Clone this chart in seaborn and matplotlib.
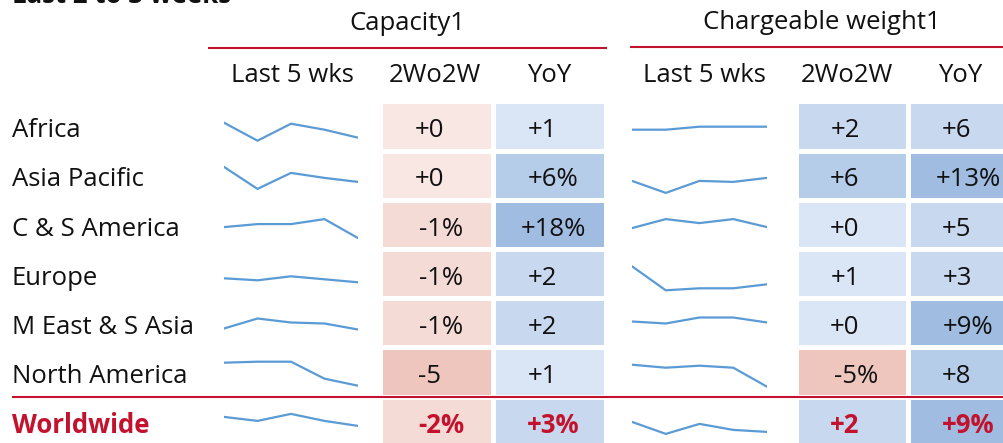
import numpy as np
import pandas as pd
import matplotlib
matplotlib.use("Agg")
import matplotlib.pyplot as plt
from matplotlib.colors import ListedColormap
import seaborn as sns

# ---------------- data ----------------
regions = ["Africa", "Asia Pacific", "C & S America", "Europe",
           "M East & S Asia", "North America", "Worldwide"]
weeks = [1, 2, 3, 4, 5]

# sparkline levels (relative index, last 5 weeks)
cap_spark = [
    [28, 10, 27, 21, 13],
    [33, 11, 27, 22, 18],
    [22, 25, 25, 30, 11],
    [20, 18, 22, 19, 16],
    [19, 29, 25, 24, 18],
    [34, 35, 35, 18, 11],
    [29, 25, 32, 25, 20],
]
chg_spark = [
    [21, 21, 24, 24, 24],
    [19, 7, 19, 18, 22],
    [21, 30, 26, 30, 22],
    [32, 8, 10, 10, 14],
    [26, 24, 30, 30, 25],
    [32, 29, 31, 29, 10],
    [24, 12, 22, 16, 14],
]

# change values (estimated, used for shading)
cap_2w = [-0.3, -0.2, -1.2, -1.0, -0.8, -5.0, -1.6]
cap_yoy = [1.0, 6.4, 18.0, 2.0, 2.0, 1.0, 3.0]
chg_2w = [2.0, 6.2, 0.3, 1.0, 0.2, -5.0, 2.0]
chg_yoy = [5.6, 13.0, 5.0, 3.0, 9.0, 8.0, 9.0]

# displayed labels
cap_2w_lbl = ["+0", "+0", "-1%", "-1%", "-1%", "-5", "-2%"]
cap_yoy_lbl = ["+1", "+6%", "+18%", "+2", "+2", "+1", "+3%"]
chg_2w_lbl = ["+2", "+6", "+0", "+1", "+0", "-5%", "+2"]
chg_yoy_lbl = ["+6", "+13%", "+5", "+3", "+9%", "+8", "+9%"]

group_titles = ["Capacity1", "Chargeable weight1"]
sub_headers = ["Last 5 wks", "2Wo2W", "YoY"]
title = "Last 2 to 3 weeks"

# ---------------- style ----------------
sns.set_style("white")
plt.rcParams["font.family"] = ["Open Sans", "DejaVu Sans"]

W, H = 1004, 443
RED = "#C3122E"
TXT = "#111111"
LINE = "#5B9BD5"
shade_colors = ["#EEC6BD", "#F4DBD5", "#F9E7E4",
                "#DAE5F5", "#C8D8EE", "#B6CDEA", "#A0BCE0"]
bounds = [-3, -0.5, 0, 1.5, 6, 8.5]
cmap = ListedColormap(shade_colors)

fig = plt.figure(figsize=(W / 100, H / 100), dpi=100)
fig.patch.set_facecolor("white")

row_top0 = 101.5
row_h = 49.2
n = len(regions)


def rect(x0, y0, x1, y1):
    return [x0 / W, 1 - y1 / H, (x1 - x0) / W, (y1 - y0) / H]


# heatmaps
def heat(ax, a, b):
    lv = np.column_stack([np.digitize(a, bounds), np.digitize(b, bounds)])
    sns.heatmap(lv, ax=ax, cmap=cmap, vmin=-0.5, vmax=len(shade_colors) - 0.5,
                cbar=False, linewidths=2.2, linecolor="white",
                xticklabels=False, yticklabels=False)
    ax.set_xlabel("")
    ax.set_ylabel("")


top = row_top0
bot = row_top0 + n * row_h
ax_cap = fig.add_axes(rect(380.5, top, 605.5, bot))
heat(ax_cap, cap_2w, cap_yoy)
ax_chg = fig.add_axes(rect(796.5, top, 1019.5, bot))
heat(ax_chg, chg_2w, chg_yoy)

# sparklines
for i in range(n):
    rt = row_top0 + i * row_h
    for data, (x0, x1) in ((cap_spark, (224, 358)), (chg_spark, (632, 767))):
        ax_s = fig.add_axes(rect(x0, rt, x1, rt + row_h))
        df = pd.DataFrame({"week": weeks, "v": data[i]})
        sns.lineplot(data=df, x="week", y="v", ax=ax_s, color=LINE, linewidth=1.6)
        ax_s.set_xlim(weeks[0], weeks[-1])
        ax_s.set_ylim(0, row_h)
        ax_s.axis("off")

# overlay axes for text and rules
ax = fig.add_axes([0, 0, 1, 1])
ax.set_xlim(0, W)
ax.set_ylim(H, 0)
ax.axis("off")
ax.set_zorder(10)

fs = 18.5
ax.text(12, 3, title, fontsize=fs, fontweight="bold", color=TXT, va="baseline")

ax.text(407, 30, group_titles[0], fontsize=fs, ha="center", va="baseline", color=TXT)
ax.text(822, 29, group_titles[1], fontsize=fs, ha="center", va="baseline", color=TXT)
ax.plot([208, 607], [47.5, 47.5], color=RED, lw=1.5, solid_capstyle="butt")
ax.plot([630, 1004], [46.5, 46.5], color=RED, lw=1.5, solid_capstyle="butt")

sub_x = [[292, 435, 549], [704, 847, 960]]
for xs in sub_x:
    for x, s in zip(xs, sub_headers):
        ax.text(x, 82, s, fontsize=fs, ha="center", va="baseline", color=TXT)

col_x = [437, 549.5, 852, 964]
cols = [cap_2w_lbl, cap_yoy_lbl, chg_2w_lbl, chg_yoy_lbl]
for i, r in enumerate(regions):
    base = row_top0 + i * row_h + 35.8
    last = i == n - 1
    ax.text(12, base, r, fontsize=fs, va="baseline",
            color=RED if last else TXT, fontweight="bold" if last else "normal")
    for cx, labs in zip(col_x, cols):
        s = labs[i]
        dx = 4 if "%" in s else -7
        ax.text(cx + dx, base, s, fontsize=fs, ha="center", va="baseline",
                color=RED if last else TXT, fontweight="bold" if last else "normal")

ax.plot([12, 1004], [396.5, 396.5], color=RED, lw=1.5, solid_capstyle="butt")

fig.savefig("out.png", dpi=100)
